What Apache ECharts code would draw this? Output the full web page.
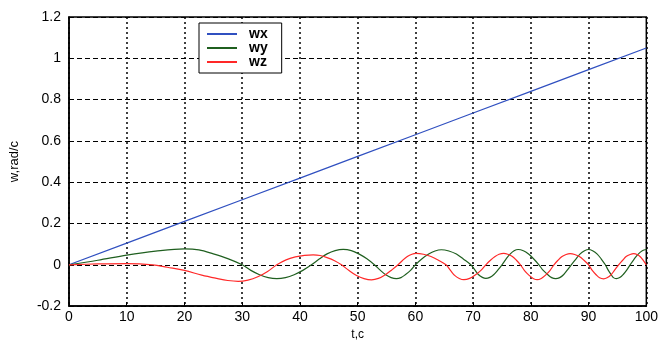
<!DOCTYPE html>
<html>
<head>
<meta charset="utf-8">
<script src="https://cdn.jsdelivr.net/npm/echarts@6/dist/echarts.min.js"></script>
<style>
  html, body { margin: 0; padding: 0; background: #fff; }
  #chart { width: 661px; height: 346px; }
</style>
</head>
<body>
<div id="chart"></div>
<script>
// values (t in c, w in rad/c)
const wxT = [0, 10, 20, 30, 40, 50, 60, 70, 80, 90, 100];
const wxV = [0, 0.105, 0.21, 0.315, 0.42, 0.525, 0.63, 0.735, 0.84, 0.945, 1.05];

const wyT = [0, 5, 10, 15, 20, 22.5, 25, 27.5, 30, 31.5, 33, 34.5, 36, 37.5, 39, 40.5, 42,
  43.4, 44.7, 46.1, 47.5, 48.9, 50.2, 51.6, 52.9, 53.9, 54.8, 55.8, 56.7, 57.5, 58.3, 59.2, 60,
  61.1, 62.3, 63.4, 64.5, 65.8, 67.1, 68.3, 69.6, 70.3, 70.9, 71.6, 72.2, 72.9, 73.6, 74.3, 75,
  75.7, 76.4, 77.1, 77.8, 78.7, 79.6, 80.5, 81.4, 82.1, 82.9, 83.6, 84.3, 85, 85.7, 86.3, 87,
  87.8, 88.5, 89.3, 90, 90.7, 91.5, 92.2, 92.9, 93.4, 93.9, 94.3, 94.8, 95.4, 96, 96.6, 97.2,
  97.9, 98.6, 99.3, 100];
const wyV = [0, 0.022, 0.047, 0.066, 0.077, 0.072, 0.053, 0.03, 0, -0.027, -0.048, -0.062, -0.067, -0.062, -0.048, -0.027, 0,
  0.029, 0.053, 0.069, 0.075, 0.069, 0.053, 0.029, 0, -0.026, -0.047, -0.062, -0.067, -0.062, -0.047, -0.026, 0,
  0.028, 0.052, 0.067, 0.073, 0.067, 0.052, 0.028, 0, -0.025, -0.047, -0.061, -0.066, -0.061, -0.047, -0.025, 0,
  0.028, 0.052, 0.068, 0.074, 0.068, 0.052, 0.028, 0, -0.026, -0.047, -0.062, -0.067, -0.062, -0.047, -0.026, 0,
  0.028, 0.052, 0.068, 0.074, 0.068, 0.052, 0.028, 0, -0.026, -0.047, -0.062, -0.067, -0.062, -0.047, -0.026, 0,
  0.028, 0.052, 0.068, 0.074];

const wzT = [0, 5, 10, 14.5, 17, 20, 23, 25.6, 27.5, 29.3, 31, 32.7, 34.4, 36,
  37.6, 39.2, 40.8, 42.3, 43.5, 44.7, 46, 47.2, 48.5, 49.8, 51.1, 52.4, 53.6, 54.8, 55.9, 57,
  57.8, 58.6, 59.4, 60.1, 61.4, 62.7, 64, 65.3, 66.1, 66.8, 67.6, 68.4, 69.4, 70.3, 71.3, 72.2,
  73, 73.8, 74.5, 75.3, 76, 76.8, 77.5, 78.2, 78.9, 79.7, 80.4, 81.1, 81.8, 82.5, 83.3, 84,
  84.7, 85.4, 86.1, 86.8, 87.6, 88.4, 89.2, 90, 90.6, 91.3, 91.9, 92.6, 93.2, 93.9, 94.5, 95.2,
  95.9, 96.5, 97.2, 97.8, 98.4, 99, 99.5, 100];
const wzV = [0, 0.004, 0.006, 0, -0.012, -0.027, -0.05, -0.066, -0.076, -0.08, -0.074, -0.058, -0.032, 0,
  0.024, 0.038, 0.046, 0.048, 0.045, 0.035, 0.02, 0, -0.028, -0.052, -0.067, -0.073, -0.066, -0.048, -0.025, 0,
  0.022, 0.04, 0.051, 0.055, 0.051, 0.04, 0.022, 0, -0.028, -0.051, -0.066, -0.072, -0.066, -0.051, -0.028, 0,
  0.022, 0.04, 0.051, 0.055, 0.051, 0.04, 0.022, 0, -0.028, -0.051, -0.066, -0.072, -0.066, -0.051, -0.028, 0,
  0.022, 0.04, 0.05, 0.054, 0.05, 0.04, 0.022, 0, -0.026, -0.048, -0.063, -0.068, -0.063, -0.048, -0.026, 0,
  0.022, 0.04, 0.05, 0.054, 0.05, 0.038, 0.02, 0];

const seriesNames = ['wx', 'wy', 'wz'];
const seriesColors = ['#3050c0', '#1f5f1f', '#ff2828'];

const zip = (ts, vs) => ts.map((t, i) => [t, vs[i]]);

const chart = echarts.init(document.getElementById('chart'));
const fontFamily = 'Liberation Sans, Arial, sans-serif';
const labelFont = { color: '#000', fontSize: 14, fontFamily };

chart.setOption({
  animation: false,
  backgroundColor: '#fff',
  grid: {
    left: 68, right: 12, top: 17, bottom: 30,
    show: true, borderColor: '#000', borderWidth: 1.5
  },
  legend: {
    data: seriesNames,
    orient: 'vertical',
    left: 199, top: 23,
    itemWidth: 30, itemHeight: 2,
    itemGap: 0,
    icon: 'rect',
    backgroundColor: '#fff',
    borderColor: '#000',
    borderWidth: 1,
    padding: [4, 14, 4, 8],
    textStyle: { color: '#000', fontSize: 14, lineHeight: 13.5, fontWeight: 'bold', fontFamily, padding: [0, 0, 0, 7] }
  },
  xAxis: {
    type: 'value',
    min: 0, max: 100, interval: 10,
    name: 't,c',
    nameLocation: 'middle',
    nameGap: 22,
    nameTextStyle: { color: '#000', fontSize: 12, fontFamily },
    axisLine: { onZero: false, lineStyle: { color: '#000', width: 1.5 } },
    axisTick: { inside: true, length: 4, lineStyle: { color: '#000' } },
    axisLabel: Object.assign({ margin: 4 }, labelFont),
    splitLine: { show: true, lineStyle: { color: '#000', width: 1.5, type: [2, 3] } }
  },
  yAxis: {
    type: 'value',
    min: -0.2, max: 1.2, interval: 0.2,
    name: 'w,rad/c',
    nameLocation: 'middle',
    nameGap: 48,
    nameTextStyle: { color: '#000', fontSize: 13, fontFamily },
    axisLine: { onZero: false, lineStyle: { color: '#000', width: 1.5 } },
    axisTick: { inside: true, length: 4, lineStyle: { color: '#000' } },
    axisLabel: Object.assign({ margin: 8 }, labelFont),
    splitLine: { show: true, lineStyle: { color: '#000', width: 1, type: [5, 3] } }
  },
  series: [
    {
      name: 'wx', type: 'line', data: zip(wxT, wxV), showSymbol: false,
      lineStyle: { color: seriesColors[0], width: 1.2 }, itemStyle: { color: seriesColors[0] }
    },
    {
      name: 'wy', type: 'line', data: zip(wyT, wyV), showSymbol: false, smooth: 0.35,
      lineStyle: { color: seriesColors[1], width: 1.2 }, itemStyle: { color: seriesColors[1] }
    },
    {
      name: 'wz', type: 'line', data: zip(wzT, wzV), showSymbol: false, smooth: 0.35,
      lineStyle: { color: seriesColors[2], width: 1.2 }, itemStyle: { color: seriesColors[2] }
    }
  ]
});
</script>
</body>
</html>
